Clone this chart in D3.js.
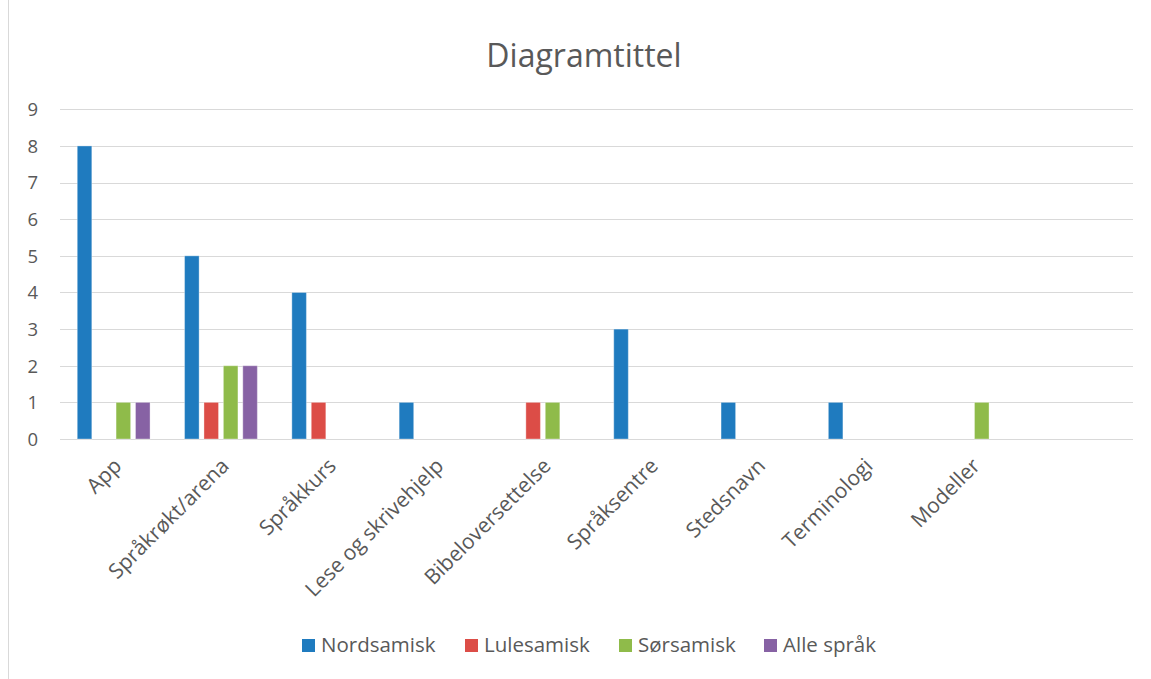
<!DOCTYPE html>
<html>
<head>
<meta charset="utf-8">
<script src="https://cdn.jsdelivr.net/npm/d3@7"></script>
<style>
  html, body { margin: 0; padding: 0; background: #fff; }
  svg { display: block; font-family: "Open Sans", "Segoe UI", sans-serif; }
</style>
</head>
<body>
<svg id="chart" width="1151" height="679"></svg>
<script>
const categories = ["App", "Språkrøkt/arena", "Språkkurs", "Lese og skrivehjelp", "Bibeloversettelse", "Språksentre", "Stedsnavn", "Terminologi", "Modeller", ""];
const seriesNames = ["Nordsamisk", "Lulesamisk", "Sørsamisk", "Alle språk"];
const nordsamisk = [8, 5, 4, 1, 0, 3, 1, 1, 0, 0];
const lulesamisk = [0, 1, 1, 0, 1, 0, 0, 0, 0, 0];
const sorsamisk  = [1, 2, 0, 0, 1, 0, 0, 0, 1, 0];
const alleSprak  = [1, 2, 0, 0, 0, 0, 0, 0, 0, 0];
const yTicks = [0, 1, 2, 3, 4, 5, 6, 7, 8, 9];
const colors = ["#1f7bbf", "#dc4d47", "#8fbb4a", "#8762a4"];
const chartTitle = "Diagramtittel";

const seriesValues = [nordsamisk, lulesamisk, sorsamisk, alleSprak];

const svg = d3.select("#chart");
const plotLeft = 60, plotRight = 1133, plotTop = 109.3, plotBottom = 439;

// outer chart border (left edge)
svg.append("line").attr("x1", 8.5).attr("x2", 8.5).attr("y1", 0).attr("y2", 679)
  .attr("stroke", "#d9d9d9").attr("stroke-width", 1);

const y = d3.scaleLinear().domain([0, 9]).range([plotBottom, plotTop]);
const x0 = d3.scaleBand().domain(categories.map((c, i) => i)).range([plotLeft, plotRight]).padding(0);
const sidePad = 17.25;
const x1 = d3.scaleBand().domain(seriesNames)
  .range([sidePad, x0.bandwidth() - sidePad]).paddingInner(0.25).paddingOuter(0);

// gridlines
svg.append("g").selectAll("line").data(yTicks).join("line")
  .attr("x1", plotLeft).attr("x2", plotRight)
  .attr("y1", d => Math.round(y(d)) + 0.5).attr("y2", d => Math.round(y(d)) + 0.5)
  .attr("stroke", "#d9d9d9").attr("stroke-width", 1);

// y tick labels
svg.append("g").selectAll("text").data(yTicks).join("text")
  .attr("x", 38).attr("y", d => y(d) + 6.8)
  .attr("text-anchor", "end")
  .attr("font-size", 18.5).attr("fill", "#595959")
  .text(d => d);

// bars
seriesNames.forEach((s, si) => {
  svg.append("g").selectAll("rect")
    .data(seriesValues[si].map((v, i) => ({ v, i })).filter(d => d.v > 0))
    .join("rect")
    .attr("x", d => x0(d.i) + x1(s))
    .attr("width", x1.bandwidth())
    .attr("y", d => y(d.v))
    .attr("height", d => y(0) - y(d.v))
    .attr("fill", colors[si])
    .attr("stroke", "#ffffff").attr("stroke-opacity", 0.35).attr("stroke-width", 1);
});

// category labels
svg.append("g").selectAll("text").data(categories).join("text")
  .attr("transform", (d, i) => `translate(${x0(i) + x0.bandwidth() / 2 + 4},${462}) rotate(-45)`)
  .attr("text-anchor", "end")
  .attr("dy", "0.35em")
  .attr("font-size", 21).attr("fill", "#595959")
  .text(d => d);

// title
svg.append("text").attr("x", 584).attr("y", 66.5).attr("text-anchor", "middle")
  .attr("font-size", 32).attr("fill", "#595959").text(chartTitle);

// legend
const legendX = [302, 465, 619, 764];
const lg = svg.append("g");
seriesNames.forEach((s, i) => {
  lg.append("rect").attr("x", legendX[i]).attr("y", 639).attr("width", 13).attr("height", 13)
    .attr("fill", colors[i]);
  lg.append("text").attr("x", legendX[i] + 19).attr("y", 652)
    .attr("font-size", 20.5).attr("fill", "#595959").text(s);
});
</script>
</body>
</html>
